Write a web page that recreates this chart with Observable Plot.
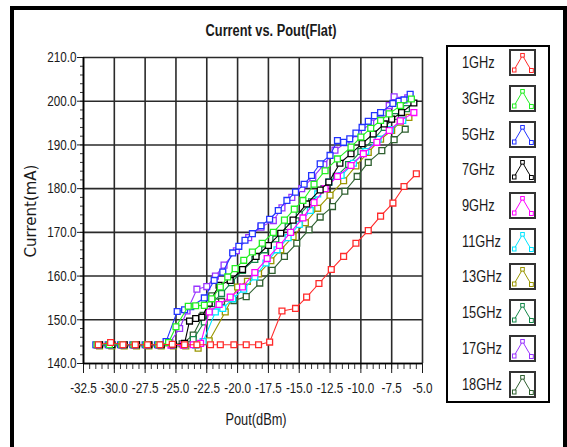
<!DOCTYPE html>
<html><head><meta charset="utf-8">
<script src="https://cdn.jsdelivr.net/npm/d3@7"></script>
<script src="https://cdn.jsdelivr.net/npm/@observablehq/plot@0.6"></script>
<style>
body{margin:0;background:#fff;}
#wrap{position:relative;width:567px;height:447px;overflow:hidden;background:#fff;font-family:"Liberation Sans",Arial,sans-serif;color:#1a1a1a;}
#frame{position:absolute;left:10px;top:6px;width:549px;height:470px;border:4px solid #000;}
#title{position:absolute;left:0;width:542px;top:22px;text-align:center;font-weight:bold;font-size:16px;line-height:18px;transform:scaleX(0.8);}
#ytitle{position:absolute;left:31px;top:211px;transform:translate(-50%,-50%) rotate(-90deg);white-space:nowrap;font-family:"DejaVu Sans",sans-serif;font-size:15px;}
#xtitle{position:absolute;left:256px;top:420px;transform:translate(-50%,-50%) scaleX(0.8);font-size:16px;white-space:nowrap;}
#legend{position:absolute;left:446px;top:45px;width:100px;height:354px;border:2px solid #000;background:#fff;}
.entry{position:absolute;left:0;width:100px;height:27px;}
.lab{position:absolute;left:14px;top:0;line-height:27px;font-size:16px;transform:scaleX(0.8);transform-origin:left center;}
.ico{position:absolute;left:61px;top:0;width:23px;height:23px;border:2px solid #333;background:#fff;}
#chart{position:absolute;left:0;top:0;}
</style></head>
<body><div id="wrap">
<div id="frame"></div>
<div id="chart"></div>
<div id="title">Current vs. Pout(Flat)</div>
<div id="ytitle">Current(mA)</div>
<div id="xtitle">Pout(dBm)</div>
<div id="legend"></div>
</div>
<script>
const seriesNames = ["1GHz","3GHz","5GHz","7GHz","9GHz","11GHz","13GHz","15GHz","17GHz","18GHz"];
const seriesColors = ["#ff2a2a","#22ee22","#2233ff","#000000","#ff00ff","#00e5ff","#9a9600","#15884a","#9933ff","#2f6030"];

const pout1 = [-31.3,-30.3,-29.3,-28.3,-27.3,-26.3,-25.3,-24.3,-23.3,-22.2,-21.4,-20.3,-19.3,-18.3,-17.4,-16.4,-15.3,-14.4,-13.4,-12.4,-11.4,-10.4,-9.4,-8.4,-7.4,-6.5,-5.5];
const cur1  = [144.3,144.8,144.3,144.3,144.3,144.3,144.4,144.3,144.3,144.3,144.3,144.3,144.3,144.3,144.9,152.0,152.6,155.2,158.3,161.5,164.5,167.5,170.4,173.7,176.7,180.5,183.4];

const pout3 = [-31.4,-30.4,-29.4,-28.4,-27.4,-26.4,-25.6,-25.0,-24.0,-23.4,-22.7,-22.1,-21.4,-20.8,-20.2,-19.5,-18.8,-18.0,-17.1,-16.2,-15.4,-14.7,-13.8,-12.9,-11.9,-10.8,-10.0,-9.2,-8.4,-7.7,-6.8,-5.9];
const cur3  = [144.3,144.3,144.3,144.3,144.3,144.3,144.8,148.4,153.1,153.2,153.3,154.8,157.5,159.8,161.7,163.6,165.5,167.5,170.0,172.8,175.3,177.3,181.0,184.1,186.8,189.5,191.8,193.8,195.6,197.1,199.0,200.5];

const pout5 = [-31.5,-30.5,-29.5,-28.5,-27.5,-26.5,-25.8,-24.9,-24.3,-23.8,-22.7,-21.9,-21.2,-20.4,-19.9,-19.4,-18.8,-18.1,-17.4,-16.7,-16.0,-15.3,-14.6,-14.0,-13.3,-12.5,-11.9,-11.4,-10.9,-10.4,-9.9,-9.4,-8.9,-8.4,-7.4,-6.9,-6.5,-6.0];
const cur5  = [144.3,144.3,144.3,144.3,144.3,144.3,145.0,151.9,152.3,153.0,155.0,159.0,160.9,165.3,166.8,168.2,169.7,171.5,173.0,175.0,177.3,179.2,181.0,183.0,185.7,187.6,191.0,190.6,191.4,192.7,194.0,195.4,196.7,197.4,199.5,200.0,200.3,201.6];

const pout7 = [-31.2,-30.2,-29.2,-28.2,-27.2,-26.2,-25.2,-24.3,-23.9,-23.4,-22.9,-22.3,-21.5,-20.6,-19.6,-18.5,-17.5,-16.5,-15.5,-14.4,-13.3,-12.6,-11.7,-10.8,-9.9,-9.0,-8.1,-7.5,-6.7,-5.7];
const cur7  = [144.3,144.3,144.3,144.3,144.3,144.3,144.3,144.6,149.7,150.3,150.6,153.8,157.9,159.0,161.5,164.5,167.0,169.8,172.8,176.5,179.7,181.5,185.8,188.0,190.3,192.5,194.8,195.9,197.4,199.6];

const pout9 = [-31.4,-30.4,-29.4,-28.4,-27.4,-26.4,-25.4,-24.4,-23.6,-23.0,-22.3,-21.5,-20.6,-19.6,-18.6,-17.6,-16.6,-15.7,-14.7,-13.8,-12.9,-11.9,-10.8,-9.8,-8.7,-7.7,-6.8,-5.7];
const cur9  = [144.2,144.2,144.2,144.2,144.2,144.2,144.2,144.2,144.3,144.6,151.8,153.5,155.2,157.5,160.8,164.0,167.0,170.0,173.3,176.8,180.0,182.8,185.3,188.0,190.6,193.3,195.5,197.4];

const pout11 = [-31.3,-30.3,-29.3,-28.3,-27.3,-26.3,-25.3,-24.3,-23.4,-22.8,-21.8,-21.2,-20.4,-19.5,-18.6,-17.7,-16.8,-15.9,-15.0,-14.1,-13.5,-12.6,-11.6,-10.6,-9.6,-8.6,-7.6,-6.6];
const cur11  = [144.2,144.2,144.2,144.2,144.2,144.2,144.2,144.2,144.2,145.0,151.8,152.6,154.8,157.0,159.8,163.0,166.0,168.8,171.8,175.0,178.8,181.5,183.0,185.8,188.5,191.3,193.5,195.6];

const pout13 = [-31.2,-30.2,-29.2,-28.2,-27.2,-26.2,-25.2,-24.2,-23.2,-22.3,-21.0,-20.0,-19.2,-18.3,-17.3,-16.5,-15.5,-14.5,-13.5,-12.5,-11.4,-10.4,-9.4,-8.4,-7.5,-6.8,-6.1];
const cur13  = [144.0,144.0,144.0,144.0,144.0,144.0,144.0,144.0,143.5,145.2,151.8,157.5,158.8,160.5,163.5,166.0,169.0,172.2,175.5,178.5,181.8,185.2,188.3,191.3,193.3,195.2,196.3];

const pout15 = [-31.3,-30.3,-29.3,-28.3,-27.3,-26.3,-25.3,-24.3,-23.6,-22.7,-22.1,-21.3,-20.5,-19.6,-18.6,-17.8,-16.9,-15.9,-15.0,-14.0,-13.0,-12.0,-11.0,-10.0,-9.0,-8.1,-7.2,-6.3];
const cur15  = [144.3,144.3,144.3,144.3,144.3,144.3,144.3,144.5,145.5,149.5,153.7,156.0,158.5,161.3,163.8,166.0,168.5,171.3,174.0,177.0,180.0,182.8,185.5,188.5,191.2,194.0,196.5,198.3];

const pout17 = [-31.3,-30.3,-29.3,-28.3,-27.3,-26.3,-25.5,-24.7,-24.1,-23.3,-22.5,-21.8,-21.1,-20.1,-19.1,-18.1,-17.1,-16.4,-15.6,-14.8,-13.9,-13.0,-12.1,-11.2,-10.2,-9.2,-8.2,-7.7,-7.3,-6.7,-6.2];
const cur17  = [144.3,144.3,144.3,144.3,144.3,144.3,144.8,148.0,152.0,157.0,157.6,160.0,162.5,165.8,168.8,171.2,172.7,175.6,178.0,180.0,182.5,185.5,188.8,190.5,192.6,195.0,197.3,199.0,201.0,200.2,200.8];

const pout18 = [-31.2,-30.2,-29.2,-28.2,-27.2,-26.2,-25.2,-24.5,-23.6,-22.8,-22.1,-21.3,-20.3,-19.3,-18.2,-17.2,-16.2,-15.2,-14.2,-13.3,-12.3,-11.3,-10.3,-9.4,-8.3,-7.3,-6.4];
const cur18  = [144.3,144.3,144.3,144.3,144.3,144.3,144.3,144.5,146.5,151.0,155.5,154.2,154.4,155.3,158.4,161.3,164.5,167.5,170.6,173.5,175.9,179.4,182.8,186.0,188.7,191.2,193.6];

const xTicks = [-32.5,-30.0,-27.5,-25.0,-22.5,-20.0,-17.5,-15.0,-12.5,-10.0,-7.5,-5.0];
const yTicks = [140,150,160,170,180,190,200,210];

const pouts = [pout1,pout3,pout5,pout7,pout9,pout11,pout13,pout15,pout17,pout18];
const curs  = [cur1,cur3,cur5,cur7,cur9,cur11,cur13,cur15,cur17,cur18];

const xMinor = d3.range(-32.5, -4.99, 0.5);
const yMinor = d3.range(140, 210.01, 2);

const marks = [
  Plot.gridX(xTicks, {stroke:"#2a2a2a", strokeOpacity:1, strokeWidth:1.6}),
  Plot.gridY(yTicks, {stroke:"#2a2a2a", strokeOpacity:1, strokeWidth:1.6}),
  Plot.axisX(xMinor, {tickSize:6, tickFormat:()=>"", label:null, stroke:"#333"}),
  Plot.axisX(xTicks, {tickSize:10, tickPadding:9, tickFormat:d=>d.toFixed(1), label:null, fontSize:15, fill:"#1a1a1a"}),
  Plot.axisY(yMinor, {tickSize:3, tickFormat:()=>"", label:null, stroke:"#333"}),
  Plot.axisY(yTicks, {tickSize:6, tickPadding:1, tickFormat:d=>d.toFixed(1), label:null, fontSize:15, fill:"#1a1a1a"}),
  Plot.ruleX([-32.5], {stroke:"#000", strokeWidth:1.6}),
  Plot.ruleY([140], {stroke:"#000", strokeWidth:1.6})
];
for (let k = seriesNames.length - 1; k >= 0; k--) {
  const rows = pouts[k].map((x, i) => ({x, y: curs[k][i]}));
  marks.push(Plot.line(rows, {x:"x", y:"y", stroke: seriesColors[k], strokeWidth:1.1}));
  marks.push(Plot.dot(rows, {x:"x", y:"y", symbol:"square", r:3.3, stroke: seriesColors[k], fill:"white", strokeWidth:1.3}));
}

const chart = Plot.plot({
  width:567, height:447,
  marginLeft:83, marginRight:145, marginTop:57, marginBottom:84,
  x:{domain:[-32.5,-5]},
  y:{domain:[140,210]},
  style:{fontFamily:"'Liberation Sans',Arial,sans-serif", fontSize:"15px", background:"transparent", overflow:"visible"},
  marks
});
document.getElementById("chart").appendChild(chart);

// condense tick label text horizontally around its anchor
chart.querySelectorAll("text").forEach(t => {
  const x = parseFloat(t.getAttribute("x") || "0");
  const tr = t.getAttribute("transform") || "";
  t.setAttribute("transform", `${tr} translate(${x},0) scale(0.78,1) translate(${-x},0)`);
});

// legend
const leg = document.getElementById("legend");
seriesNames.forEach((name, i) => {
  const e = document.createElement("div");
  e.className = "entry";
  e.style.top = (2.2 + 35.7 * i) + "px";
  const c = seriesColors[i];
  e.innerHTML = `<div class="lab">${name}</div><div class="ico"><svg width="23" height="23">
    <polyline points="3,19 11.5,4.5 17,14 20.5,19.5" fill="none" stroke="${c}" stroke-width="1"/>
    <rect x="1.5" y="17" width="3.5" height="4" fill="white" stroke="${c}" stroke-width="1"/>
    <rect x="9.7" y="2.5" width="3.6" height="3.6" fill="white" stroke="${c}" stroke-width="1"/>
    <rect x="18.5" y="17.5" width="3.8" height="4" fill="white" stroke="${c}" stroke-width="1"/>
  </svg></div>`;
  leg.appendChild(e);
});
</script>
</body></html>
